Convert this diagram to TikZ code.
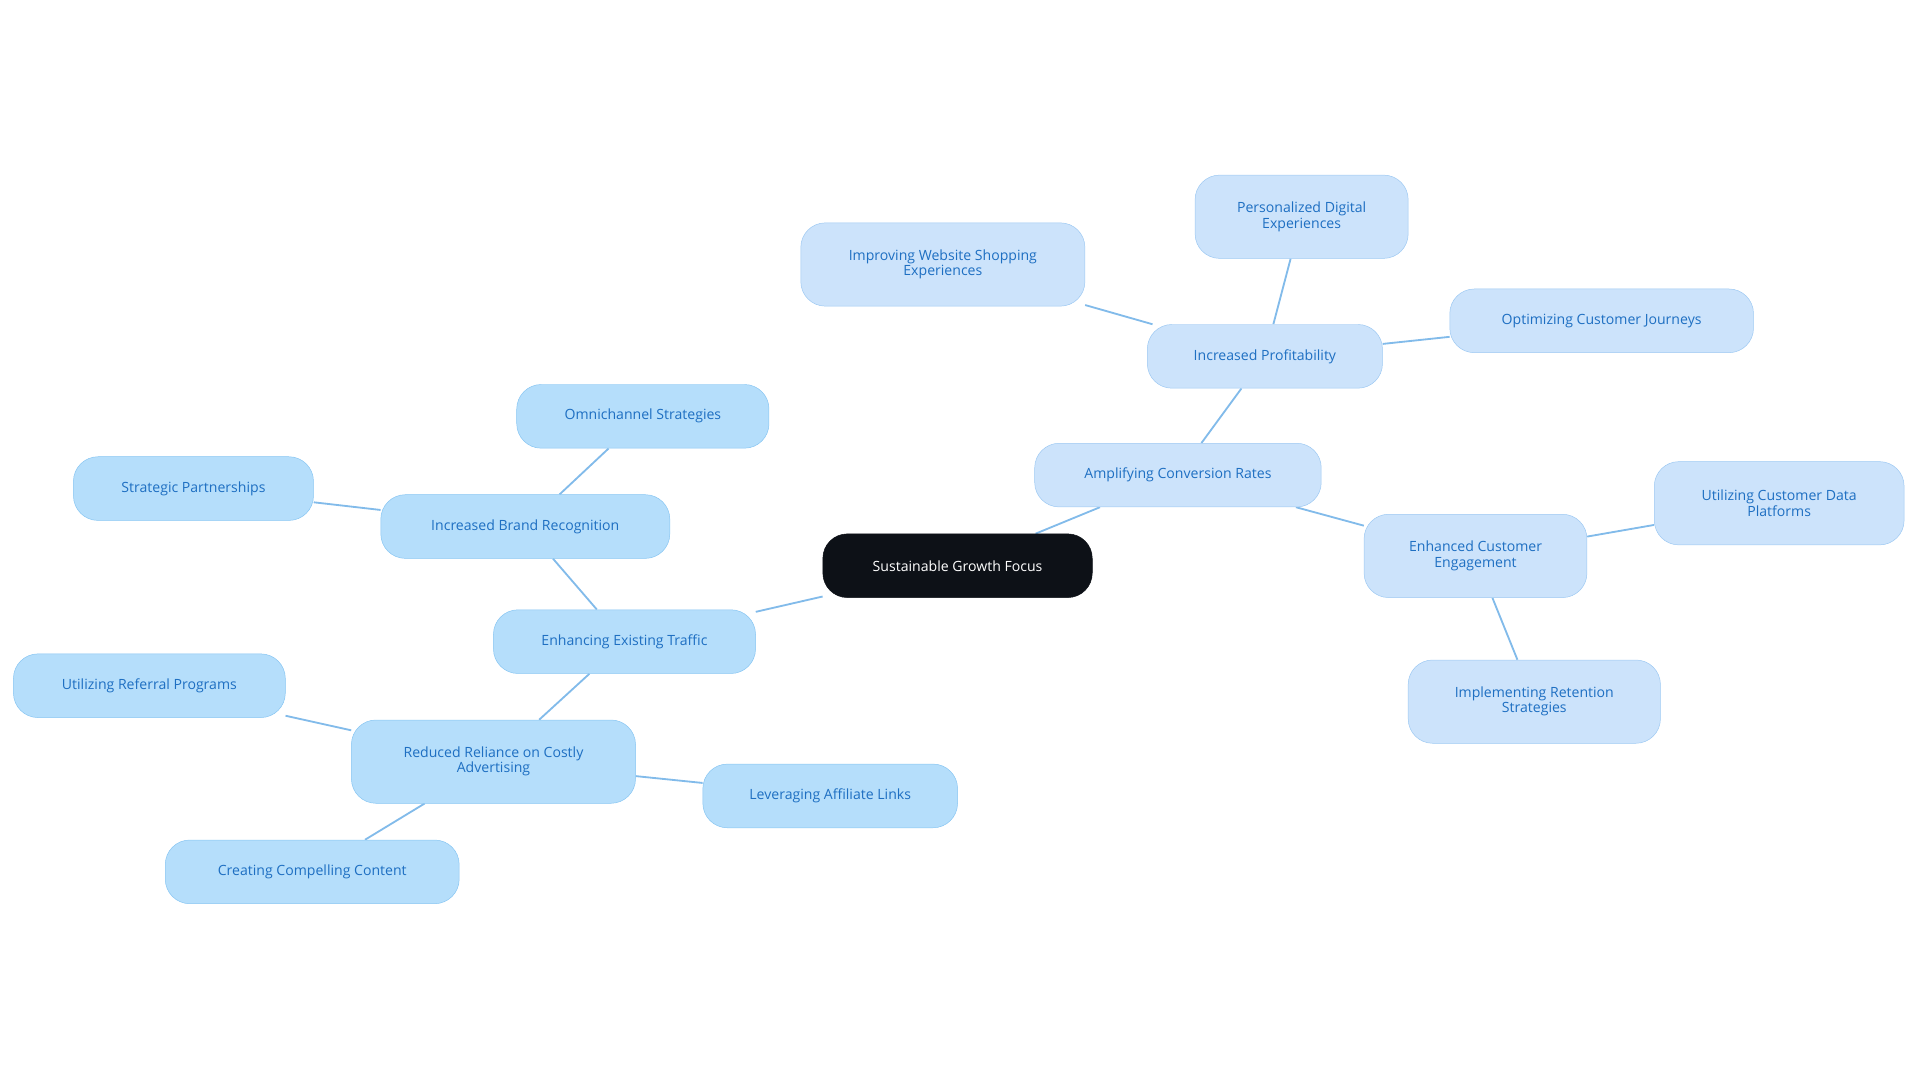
\documentclass[tikz,border=0pt]{standalone}
\usepackage{fontspec}
\setmainfont{Open Sans}
\usetikzlibrary{positioning,backgrounds}
\definecolor{rootfill}{HTML}{0D1117}
\definecolor{leftfill}{HTML}{B5DEFB}
\definecolor{leftdraw}{HTML}{86C5F2}
\definecolor{rightfill}{HTML}{CCE3FB}
\definecolor{rightdraw}{HTML}{9CC8F2}
\definecolor{textblue}{HTML}{1E6FC2}
\definecolor{edgeblue}{HTML}{82BBEA}
\tikzset{
  font={\fontsize{11.5pt}{12.5pt}\selectfont}}
\begin{document}
\begin{tikzpicture}[x=1pt,y=-1pt,
    root_node/.style ={rectangle, rounded corners=20pt, draw=rootfill, fill=rootfill,
      text=white, align=center, minimum height=52pt},
    left_node/.style ={rectangle, rounded corners=20pt, draw=leftdraw, fill=leftfill,
      text=textblue, align=center, minimum height=52pt},
    right_node/.style ={rectangle, rounded corners=20pt, draw=rightdraw, fill=rightfill,
      text=textblue, align=center, minimum height=52pt},
    tall/.style ={minimum height=68pt},
    link/.style ={draw=edgeblue, line width=1.5pt}]
    \useasboundingbox (0,0) rectangle (1568,884);
    % centre
    \node[root_node, minimum width=220pt] (focus) at (782,462) {Sustainable Growth Focus};
    % left branch
    \node[left_node, minimum width=214pt] (traffic) at (510,524) {Enhancing Existing Traffic};
    \node[left_node, minimum width=236pt] (brand) at (429,430) {Increased Brand Recognition};
    \node[left_node, minimum width=206pt] (omni) at (525,340) {Omnichannel Strategies};
    \node[left_node, minimum width=196pt] (partner) at (158,399) {Strategic Partnerships};
    \node[left_node, tall, minimum width=232pt] (reliance) at (403,622) {Reduced Reliance on Costly\\Advertising};
    \node[left_node, minimum width=222pt] (referral) at (122,560) {Utilizing Referral Programs};
    \node[left_node, minimum width=240pt] (content) at (255,712) {Creating Compelling Content};
    \node[left_node, minimum width=208pt] (affiliate) at (678,650) {Leveraging Affiliate Links};
    % right branch
    \node[right_node, minimum width=234pt] (conversion) at (962,388) {Amplifying Conversion Rates};
    \node[right_node, minimum width=192pt] (profit) at (1033,291) {Increased Profitability};
    \node[right_node, tall, minimum width=232pt] (website) at (770,216) {Improving Website Shopping\\Experiences};
    \node[right_node, tall, minimum width=174pt] (personal) at (1063,177) {Personalized Digital\\Experiences};
    \node[right_node, minimum width=248pt] (journey) at (1308,262) {Optimizing Customer Journeys};
    \node[right_node, tall, minimum width=182pt] (engage) at (1205,454) {Enhanced Customer\\Engagement};
    \node[right_node, tall, minimum width=204pt] (cdp) at (1453,411) {Utilizing Customer Data\\Platforms};
    \node[right_node, tall, minimum width=206pt] (retention) at (1253,573) {Implementing Retention\\Strategies};
    % connecting nodes with paths
    \begin{scope}[on background layer, every path/.style=link]
      \path (focus)--(traffic);
      \path (traffic)--(brand);
      \path (brand)--(omni);
      \path (brand)--(partner);
      \path (traffic)--(reliance);
      \path (reliance)--(referral);
      \path (reliance)--(content);
      \path (reliance)--(affiliate);
      \path (focus)--(conversion);
      \path (conversion)--(profit);
      \path (profit)--(website);
      \path (profit)--(personal);
      \path (profit)--(journey);
      \path (conversion)--(engage);
      \path (engage)--(cdp);
      \path (engage)--(retention);
    \end{scope}
  \end{tikzpicture}
\end{document}
